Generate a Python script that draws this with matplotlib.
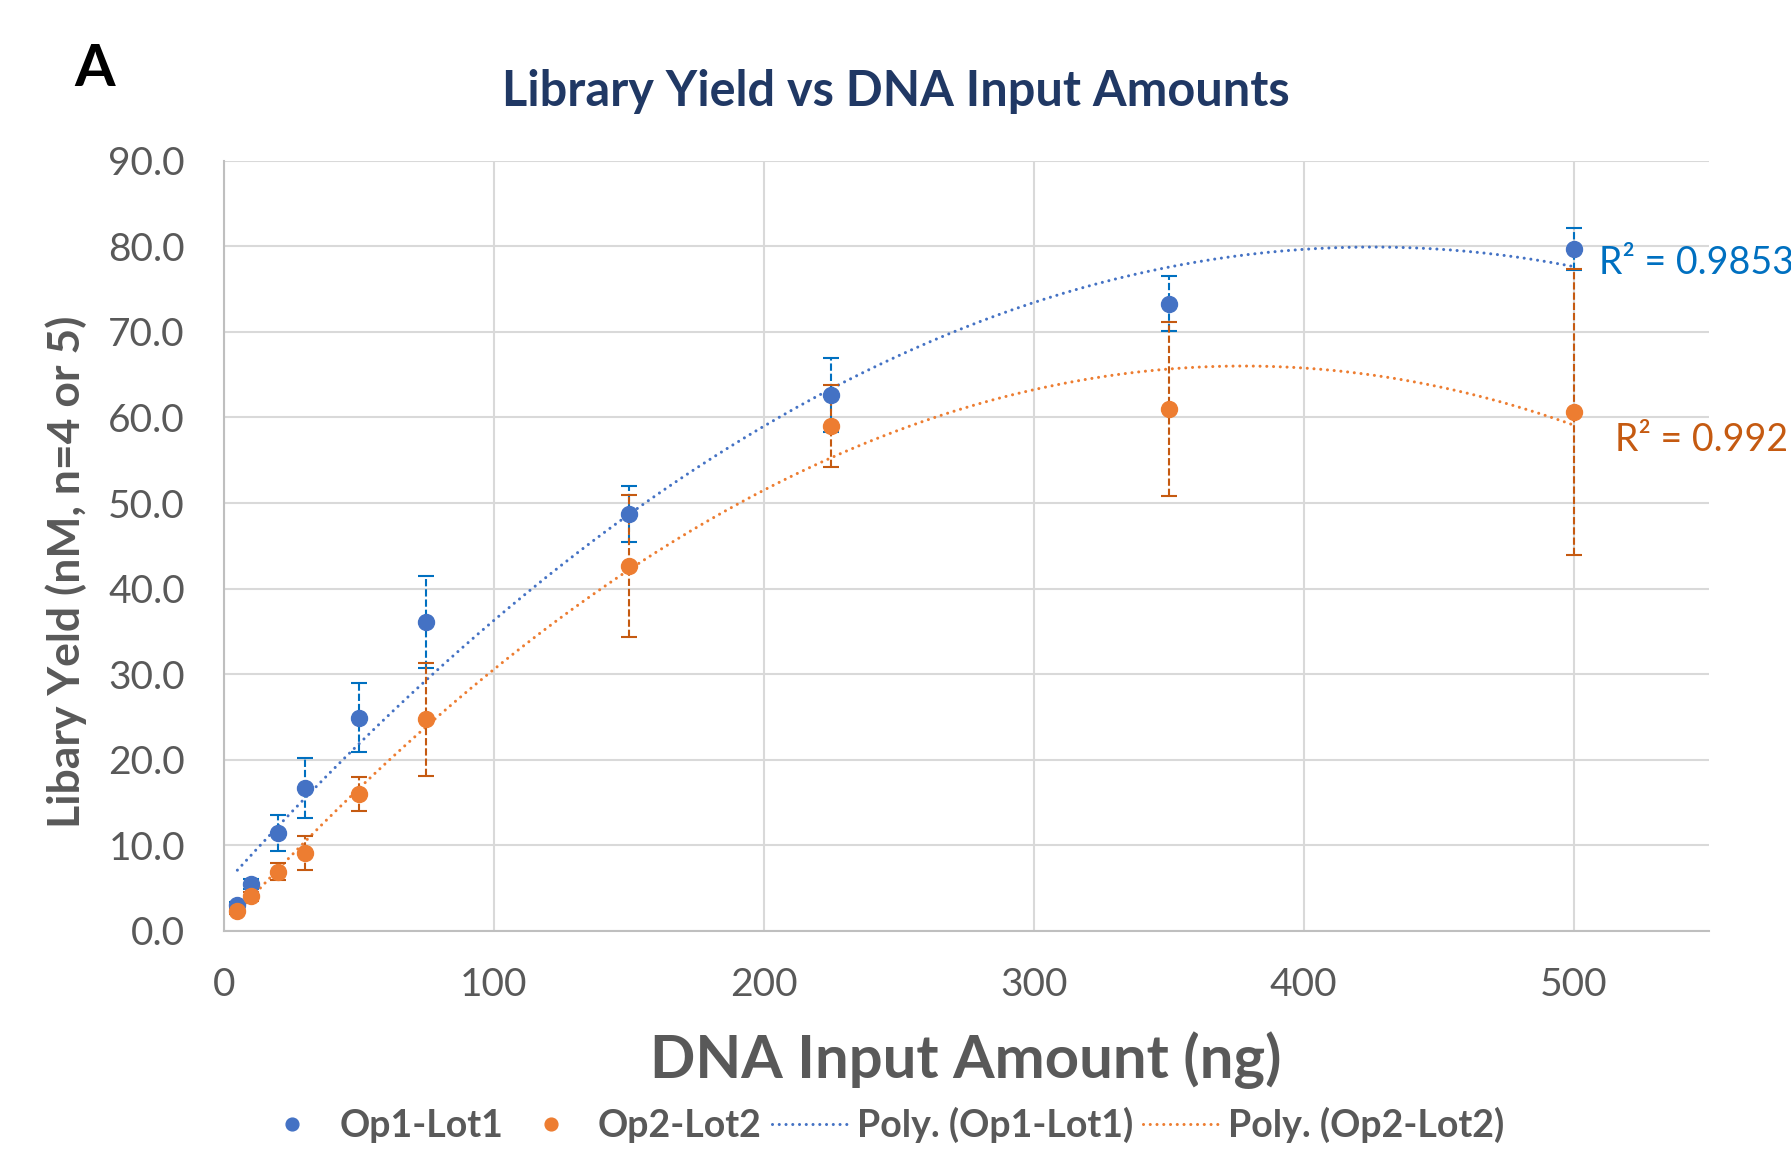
import matplotlib.pyplot as plt
import numpy as np

plt.rcParams['font.family'] = ['Lato', 'DejaVu Sans']

# DNA input (ng) and library yield (nM)
dna_input = [5, 10, 20, 30, 50, 75, 150, 225, 350, 500]
op1_yield = [3.0, 5.5, 11.4, 16.7, 24.9, 36.1, 48.7, 62.6, 73.3, 79.7]
op1_err = [0.3, 0.6, 2.1, 3.5, 4.0, 5.4, 3.3, 4.3, 3.2, 2.5]
op2_yield = [2.3, 4.0, 6.9, 9.1, 16.0, 24.7, 42.6, 59.0, 61.0, 60.6]
op2_err = [0.4, 0.5, 1.0, 2.0, 2.0, 6.6, 8.3, 4.8, 10.2, 16.7]
r2_labels = ['R² = 0.9853', 'R² = 0.992']

blue = '#4472C4'
blue_err = '#0070C0'
orange = '#ED7D31'
orange_err = '#C55A11'
gray = '#595959'

fig = plt.figure(figsize=(17.91, 11.49), dpi=100)
ax = fig.add_axes([0.125, 0.19, 0.829, 0.67])

x = np.array(dna_input, dtype=float)

ax.errorbar(x, op1_yield, yerr=op1_err, fmt='none', ecolor=blue_err,
            elinewidth=1.5, capsize=6, capthick=1.5, zorder=3)
ax.errorbar(x, op2_yield, yerr=op2_err, fmt='none', ecolor=orange_err,
            elinewidth=1.5, capsize=6, capthick=1.5, zorder=3)
for c in ax.collections:
    c.set_linestyle((0, (3.5, 1.4)))

ax.plot(x, op1_yield, 'o', color=blue, ms=11.5, zorder=4, label='Op1-Lot1')
ax.plot(x, op2_yield, 'o', color=orange, ms=11.5, zorder=4, label='Op2-Lot2')

# second order polynomial trendlines
xs = np.linspace(x.min(), x.max(), 400)
p1 = np.polyfit(x, op1_yield, 2)
p2 = np.polyfit(x, op2_yield, 2)
dots = (0, (0.01, 2.2))
ax.plot(xs, np.polyval(p1, xs), color=blue, lw=2.2, ls=dots,
        dash_capstyle='round', zorder=2, label='Poly. (Op1-Lot1)')
ax.plot(xs, np.polyval(p2, xs), color=orange, lw=2.2, ls=dots,
        dash_capstyle='round', zorder=2, label='Poly. (Op2-Lot2)')

fig.text(1599 / 1791, 1 - 263 / 1149, r2_labels[0], color=blue_err,
         fontsize=27, va='center', ha='left')
fig.text(1615 / 1791, 1 - 440 / 1149, r2_labels[1], color=orange_err,
         fontsize=27, va='center', ha='left')

ax.set_xlim(0, 550)
ax.set_ylim(0, 90)
ax.set_xticks([0, 100, 200, 300, 400, 500])
ax.set_yticks(np.arange(0, 91, 10))
ax.set_yticklabels([f'{v:.1f}' for v in np.arange(0, 91, 10)])
ax.tick_params(labelsize=28, colors=gray, length=0)
ax.tick_params(axis='y', pad=28)
ax.tick_params(axis='x', pad=26)
ax.grid(True, color='#D9D9D9', lw=1.5, zorder=0)
ax.set_axisbelow(True)
for s in ['top', 'right']:
    ax.spines[s].set_visible(False)
for s in ['left', 'bottom']:
    ax.spines[s].set_color('#BFBFBF')
    ax.spines[s].set_linewidth(1.5)

ax.set_ylabel('Libary Yeld (nM, n=4 or 5)', fontsize=32, fontweight='bold',
              color=gray)
ax.yaxis.set_label_coords(-0.092, 0.466)
fig.text(0.539, 1 - 1060 / 1149, 'DNA Input Amount (ng)', fontsize=43,
         fontweight='bold', color=gray, ha='center', va='center')

fig.text(0.5, 1 - 91 / 1149, 'Library Yield vs DNA Input Amounts',
         fontsize=35, fontweight='bold', color='#203864', ha='center', va='center')
fig.text(95 / 1791, 1 - 69 / 1149, 'A', fontsize=42, fontweight='bold',
         color='black', ha='center', va='center')

fig.legend(loc='center', bbox_to_anchor=(0.491, 1 - 1125 / 1149), ncol=4,
           frameon=False, prop={'weight': 'bold', 'size': 27},
           handlelength=2.0, handletextpad=0.25, columnspacing=0.28,
           labelcolor=gray, markerscale=0.8)

fig.savefig('out.png', dpi=100)
